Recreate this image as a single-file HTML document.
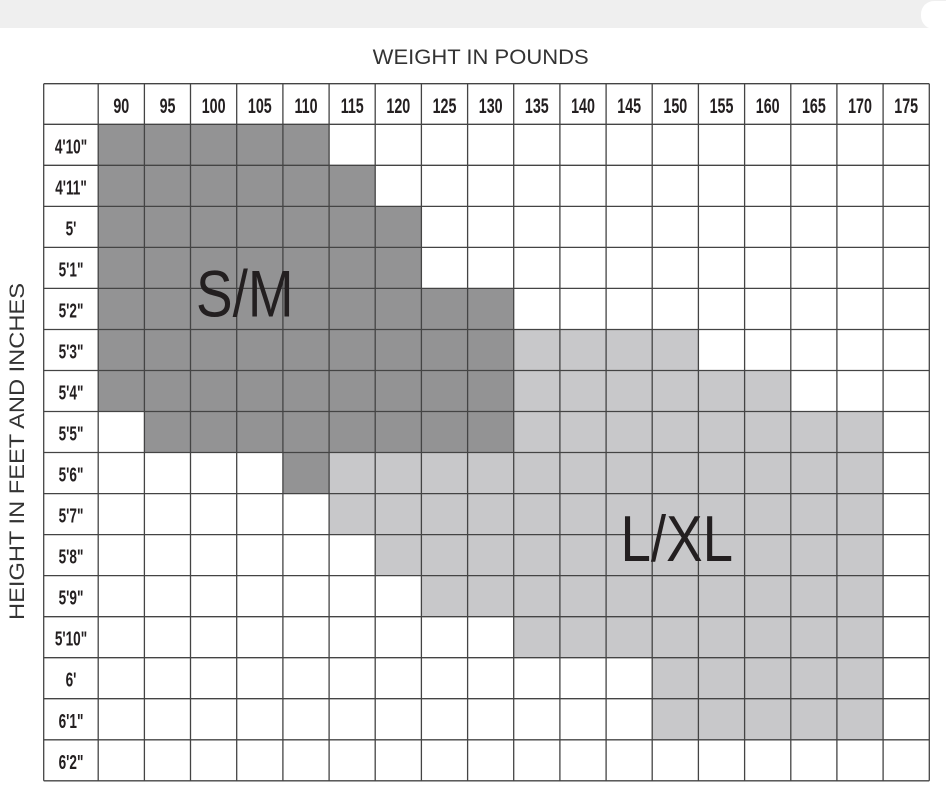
<!DOCTYPE html>
<html>
<head>
<meta charset="utf-8">
<style>
html,body{margin:0;padding:0;background:#fff;}
body{width:946px;height:802px;overflow:hidden;}
svg{display:block;}
.n{font-family:"Liberation Sans",sans-serif;font-weight:bold;font-size:21px;fill:#231f20;}
.h{font-family:"Liberation Sans",sans-serif;font-weight:bold;font-size:20px;fill:#231f20;}
</style>
</head>
<body>
<svg width="946" height="802" viewBox="0 0 946 802" xmlns="http://www.w3.org/2000/svg">
<rect x="0" y="0" width="946" height="28" fill="#efefef"/>
<rect x="921" y="1" width="40" height="28" rx="13" fill="#ffffff"/>

<text x="372.7" y="64" font-family="Liberation Sans, sans-serif" font-size="21" fill="#333" textLength="216" lengthAdjust="spacingAndGlyphs">WEIGHT IN POUNDS</text>
<text transform="translate(24,620) rotate(-90)" font-family="Liberation Sans, sans-serif" font-size="21" fill="#333" textLength="337" lengthAdjust="spacingAndGlyphs">HEIGHT IN FEET AND INCHES</text>

<!-- dark S/M -->
<g fill="#939394">
<rect x="98.2" y="124.3" width="230.9" height="41"/>
<rect x="98.2" y="165.3" width="277" height="41.1"/>
<rect x="98.2" y="206.4" width="323.2" height="82"/>
<rect x="98.2" y="288.4" width="415.5" height="123.1"/>
<rect x="144.4" y="411.5" width="369.3" height="41"/>
<rect x="282.9" y="452.5" width="46.2" height="41.1"/>
</g>
<!-- light L/XL -->
<g fill="#c8c8ca">
<rect x="513.7" y="329.5" width="184.7" height="41"/>
<rect x="513.7" y="370.5" width="277.1" height="41"/>
<rect x="513.7" y="411.5" width="369.4" height="41"/>
<rect x="329.1" y="452.5" width="554" height="82.1"/>
<rect x="375.2" y="534.6" width="507.9" height="41"/>
<rect x="421.4" y="575.6" width="461.7" height="41.1"/>
<rect x="513.7" y="616.7" width="369.4" height="41"/>
<rect x="652.2" y="657.7" width="230.9" height="82.1"/>
</g>

<!-- grid -->
<g stroke="#444" stroke-width="1.3" fill="none">
<line x1="43.7" y1="83.7" x2="43.7" y2="780.8"/>
<line x1="98.2" y1="83.7" x2="98.2" y2="780.8"/>
<line x1="144.4" y1="83.7" x2="144.4" y2="780.8"/>
<line x1="190.5" y1="83.7" x2="190.5" y2="780.8"/>
<line x1="236.7" y1="83.7" x2="236.7" y2="780.8"/>
<line x1="282.9" y1="83.7" x2="282.9" y2="780.8"/>
<line x1="329.1" y1="83.7" x2="329.1" y2="780.8"/>
<line x1="375.2" y1="83.7" x2="375.2" y2="780.8"/>
<line x1="421.4" y1="83.7" x2="421.4" y2="780.8"/>
<line x1="467.6" y1="83.7" x2="467.6" y2="780.8"/>
<line x1="513.7" y1="83.7" x2="513.7" y2="780.8"/>
<line x1="559.9" y1="83.7" x2="559.9" y2="780.8"/>
<line x1="606.1" y1="83.7" x2="606.1" y2="780.8"/>
<line x1="652.2" y1="83.7" x2="652.2" y2="780.8"/>
<line x1="698.4" y1="83.7" x2="698.4" y2="780.8"/>
<line x1="744.6" y1="83.7" x2="744.6" y2="780.8"/>
<line x1="790.8" y1="83.7" x2="790.8" y2="780.8"/>
<line x1="836.9" y1="83.7" x2="836.9" y2="780.8"/>
<line x1="883.1" y1="83.7" x2="883.1" y2="780.8"/>
<line x1="929.3" y1="83.7" x2="929.3" y2="780.8"/>

<line x1="43.7" y1="83.7" x2="929.3" y2="83.7"/>
<line x1="43.7" y1="124.3" x2="929.3" y2="124.3"/>
<line x1="43.7" y1="165.3" x2="929.3" y2="165.3"/>
<line x1="43.7" y1="206.4" x2="929.3" y2="206.4"/>
<line x1="43.7" y1="247.4" x2="929.3" y2="247.4"/>
<line x1="43.7" y1="288.4" x2="929.3" y2="288.4"/>
<line x1="43.7" y1="329.5" x2="929.3" y2="329.5"/>
<line x1="43.7" y1="370.5" x2="929.3" y2="370.5"/>
<line x1="43.7" y1="411.5" x2="929.3" y2="411.5"/>
<line x1="43.7" y1="452.5" x2="929.3" y2="452.5"/>
<line x1="43.7" y1="493.6" x2="929.3" y2="493.6"/>
<line x1="43.7" y1="534.6" x2="929.3" y2="534.6"/>
<line x1="43.7" y1="575.6" x2="929.3" y2="575.6"/>
<line x1="43.7" y1="616.7" x2="929.3" y2="616.7"/>
<line x1="43.7" y1="657.7" x2="929.3" y2="657.7"/>
<line x1="43.7" y1="698.7" x2="929.3" y2="698.7"/>
<line x1="43.7" y1="739.8" x2="929.3" y2="739.8"/>
<line x1="43.7" y1="780.8" x2="929.3" y2="780.8"/>
</g>

<!-- header numbers -->
<g class="n" text-anchor="middle">
<text transform="translate(121.3,113) scale(0.68,1)">90</text>
<text transform="translate(167.5,113) scale(0.68,1)">95</text>
<text transform="translate(213.6,113) scale(0.68,1)">100</text>
<text transform="translate(259.8,113) scale(0.68,1)">105</text>
<text transform="translate(306,113) scale(0.68,1)">110</text>
<text transform="translate(352.2,113) scale(0.68,1)">115</text>
<text transform="translate(398.3,113) scale(0.68,1)">120</text>
<text transform="translate(444.5,113) scale(0.68,1)">125</text>
<text transform="translate(490.7,113) scale(0.68,1)">130</text>
<text transform="translate(536.8,113) scale(0.68,1)">135</text>
<text transform="translate(583,113) scale(0.68,1)">140</text>
<text transform="translate(629.2,113) scale(0.68,1)">145</text>
<text transform="translate(675.3,113) scale(0.68,1)">150</text>
<text transform="translate(721.5,113) scale(0.68,1)">155</text>
<text transform="translate(767.7,113) scale(0.68,1)">160</text>
<text transform="translate(813.9,113) scale(0.68,1)">165</text>
<text transform="translate(860,113) scale(0.68,1)">170</text>
<text transform="translate(906.2,113) scale(0.68,1)">175</text>
</g>

<!-- height labels -->
<g class="h" text-anchor="middle">
<text transform="translate(71,153.3) scale(0.68,1)">4'10&quot;</text>
<text transform="translate(71,194.4) scale(0.68,1)">4'11&quot;</text>
<text transform="translate(71,235.4) scale(0.68,1)">5'</text>
<text transform="translate(71,276.4) scale(0.68,1)">5'1&quot;</text>
<text transform="translate(71,317.5) scale(0.68,1)">5'2&quot;</text>
<text transform="translate(71,358.5) scale(0.68,1)">5'3&quot;</text>
<text transform="translate(71,399.5) scale(0.68,1)">5'4&quot;</text>
<text transform="translate(71,440.5) scale(0.68,1)">5'5&quot;</text>
<text transform="translate(71,481.6) scale(0.68,1)">5'6&quot;</text>
<text transform="translate(71,522.6) scale(0.68,1)">5'7&quot;</text>
<text transform="translate(71,563.6) scale(0.68,1)">5'8&quot;</text>
<text transform="translate(71,604.7) scale(0.68,1)">5'9&quot;</text>
<text transform="translate(71,645.7) scale(0.68,1)">5'10&quot;</text>
<text transform="translate(71,686.7) scale(0.68,1)">6'</text>
<text transform="translate(71,727.8) scale(0.68,1)">6'1&quot;</text>
<text transform="translate(71,768.8) scale(0.68,1)">6'2&quot;</text>
</g>

<!-- size labels -->
<text x="196" y="316.5" font-family="Liberation Sans, sans-serif" font-size="66" fill="#231f20" textLength="97.5" lengthAdjust="spacingAndGlyphs">S/M</text>
<text x="620.5" y="561" font-family="Liberation Sans, sans-serif" font-size="64.5" fill="#231f20" textLength="112.5" lengthAdjust="spacingAndGlyphs">L/XL</text>
</svg>
</body>
</html>
